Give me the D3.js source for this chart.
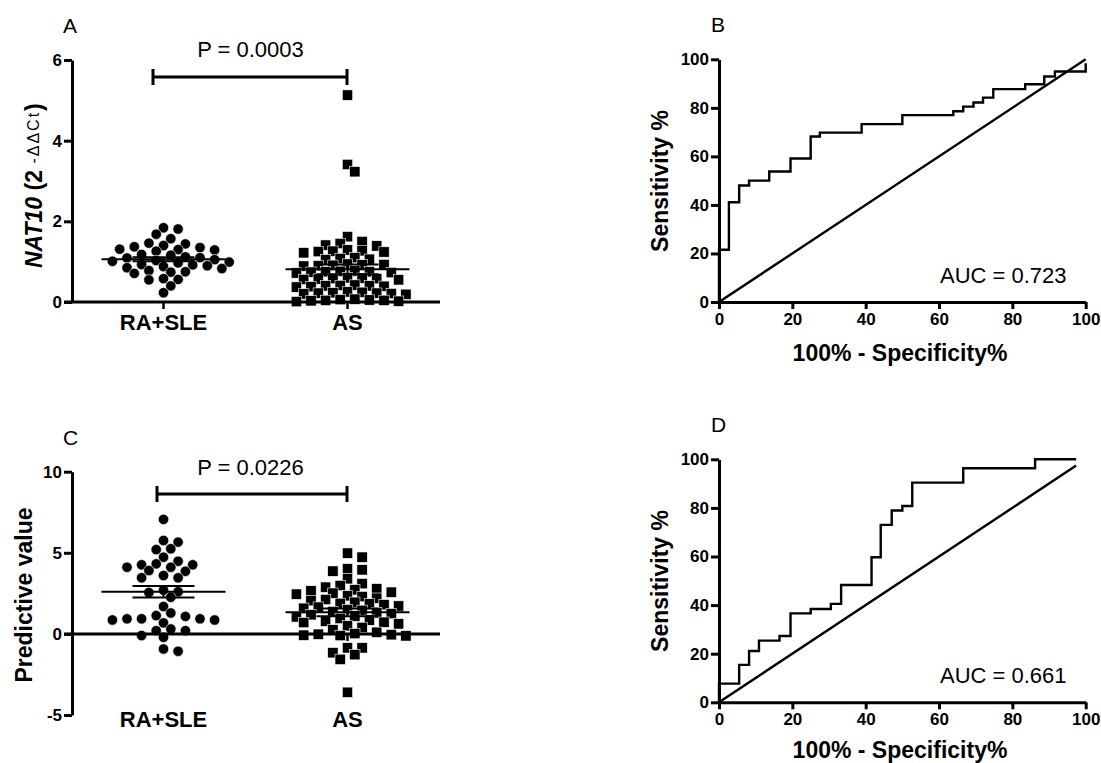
<!DOCTYPE html>
<html>
<head>
<meta charset="utf-8">
<script src="https://cdn.jsdelivr.net/npm/d3@7"></script>
<style>
  body { margin: 0; background: #fff; }
  text { font-family: "Liberation Sans", Arial, sans-serif; fill: #000; }
</style>
</head>
<body>
<svg id="chart" width="1101" height="763"></svg>
<script>
// ---- data ----
var groups = ["RA+SLE", "AS"];

// A: NAT10 expression (2^-ddCt)
var nat10RaSle = [1.84, 1.81, 1.68, 1.57, 1.46, 1.44, 1.40, 1.37, 1.35, 1.31, 1.30, 1.29, 1.26,
    1.18, 1.16, 1.12, 1.10, 1.09, 1.05, 1.03, 1.01, 0.99, 0.97, 0.93, 0.92, 0.90, 0.88, 0.85,
    0.83, 0.78, 0.75, 0.74, 0.71, 0.58, 0.56, 0.55, 0.40, 0.23];
var nat10As = [5.13, 3.41, 3.23, 1.62, 1.50, 1.45, 1.41, 1.39, 1.29, 1.27, 1.26, 1.25, 1.24,
    1.22, 1.10, 1.08, 1.06, 1.05, 0.94, 0.93, 0.92, 0.91, 0.90, 0.89, 0.77, 0.76, 0.75, 0.75,
    0.74, 0.73, 0.72, 0.60, 0.59, 0.58, 0.58, 0.57, 0.56, 0.55, 0.42, 0.41, 0.40, 0.40, 0.39,
    0.38, 0.37, 0.25, 0.24, 0.23, 0.22, 0.22, 0.21, 0.20, 0.19, 0.07, 0.06, 0.05, 0.04, 0.04,
    0.03, 0.02, 0.01];
var nat10Mean = [1.06, 0.81];
var nat10Sem = [0.05, 0.12];
var nat10Ticks = [0, 2, 4, 6];

// C: predictive value
var predRaSle = [7.06, 5.76, 5.66, 5.25, 5.20, 4.73, 4.48, 4.32, 4.26, 4.26, 4.11, 4.11, 3.91,
    3.86, 3.60, 3.46, 3.46, 2.70, 2.60, 2.55, 2.26, 1.69, 1.29, 1.13, 1.08, 0.93, 0.93, 0.93,
    0.86, 0.86, 0.68, 0.30, 0.20, 0.20, -0.10, -0.21, -0.93, -1.07];
var predAs = [4.98, 4.73, 4.01, 3.95, 3.87, 3.40, 3.10, 2.98, 2.88, 2.78, 2.72, 2.65, 2.57,
    2.51, 2.45, 2.35, 2.30, 2.20, 2.12, 2.05, 1.95, 1.88, 1.85, 1.80, 1.72, 1.65, 1.58, 1.50,
    1.45, 1.38, 1.30, 1.25, 1.18, 1.10, 1.05, 0.95, 0.85, 0.78, 0.72, 0.70, 0.62, 0.50, 0.40,
    0.25, 0.10, 0.02, -0.02, -0.05, -0.08, -0.10, -0.12, -0.86, -0.86, -1.16, -1.28, -1.57, -3.60];
var predMean = [2.60, 1.33];
var predSem = [0.36, 0.24];
var predTicks = [-5, 0, 5, 10];

// B, D: ROC curves, [100% - specificity, sensitivity] at each step
var rocB = [[0, 0], [0, 21.5], [2.7, 41.1], [5.5, 48], [8.2, 50], [13.7, 53.8], [19.5, 59.1],
    [25, 68.2], [27.5, 69.8], [38.9, 73.3], [50, 77], [63.9, 78.6], [66.6, 80.5], [69.4, 82.2],
    [72, 84.2], [74.8, 87.7], [83.5, 89.7], [88.7, 92.9], [91.6, 95], [100, 98.4]];
var rocD = [[0, 0], [0, 7.7], [5.5, 15.4], [8.2, 21.1], [10.9, 25.4], [16.5, 27.3], [19.5, 36.6],
    [25, 38.4], [30.5, 40.5], [33.3, 48.3], [41.6, 59.7], [44.1, 73], [47.1, 78.9], [50, 80.8],
    [52.7, 90.4], [66.6, 96.3], [86.2, 100], [97.4, 100]];
var diagB = [[0, 0], [100, 100]];
var diagD = [[0, 0], [97.4, 97.4]];
var rocTicks = [0, 20, 40, 60, 80, 100];

var svg = d3.select("#chart");
var FONT = '"Liberation Sans", Arial, sans-serif';

// Prism-like column scatter: place points on a horizontal grid, nearest free slot to the centre
function swarm(vals, y, cx, pitch, dmin) {
    var pts = vals.map(function (v) { return { v: v, y: y(v) }; })
        .sort(function (a, b) { return a.y - b.y; });
    var placed = [];
    pts.forEach(function (p) {
        for (var k = 0; k < 80; k++) {
            var off = Math.ceil(k / 2) * pitch * (k % 2 ? 1 : -1);
            var ok = placed.every(function (q) {
                var dx = q.x - (cx + off), dy = q.y - p.y;
                return dx * dx + dy * dy >= dmin * dmin;
            });
            if (ok) { p.x = cx + off; break; }
        }
        placed.push(p);
    });
    return placed;
}

function styleAxis(g) {
    g.attr("font-family", FONT).attr("font-size", 17).attr("font-weight", 700);
    g.selectAll("path, line").attr("stroke", "#000").attr("stroke-width", 3);
    g.selectAll("text").attr("fill", "#000")
        .style("font-family", FONT).style("font-size", "17px").style("font-weight", "700");
}

function plain(d) { return String(d); }

function dotPanel(cfg) {
    var g = svg.append("g");
    var x = d3.scalePoint().domain(groups).range([163.5, 347.5]);
    var y = cfg.y;

    // points
    var sets = [cfg.a, cfg.b];
    sets.forEach(function (vals, i) {
        var pts = swarm(vals, y, x(groups[i]), 7.3, 9.1);
        if (i === 0) {
            g.append("g").selectAll("circle").data(pts).enter().append("circle")
                .attr("cx", function (d) { return d.x; })
                .attr("cy", function (d) { return d.y; })
                .attr("r", 5.2)
                .attr("fill", "#000").attr("stroke", "#fff").attr("stroke-width", 0.6);
        } else {
            g.append("g").selectAll("rect").data(pts).enter().append("rect")
                .attr("x", function (d) { return d.x - 5.2; })
                .attr("y", function (d) { return d.y - 5.2; })
                .attr("width", 10.4).attr("height", 10.4)
                .attr("fill", "#000").attr("stroke", "#fff").attr("stroke-width", 0.6);
        }
    });

    // mean + SEM
    groups.forEach(function (grp, i) {
        var cx = x(grp), m = cfg.mean[i], s = cfg.sem[i];
        g.append("line").attr("x1", cx - 62).attr("x2", cx + 62)
            .attr("y1", y(m)).attr("y2", y(m)).attr("stroke", "#000").attr("stroke-width", 2);
        [m - s, m + s].forEach(function (v) {
            g.append("line").attr("x1", cx - 31).attr("x2", cx + 31)
                .attr("y1", y(v)).attr("y2", y(v)).attr("stroke", "#000").attr("stroke-width", 2);
        });
        g.append("line").attr("x1", cx).attr("x2", cx)
            .attr("y1", y(m - s)).attr("y2", y(m + s)).attr("stroke", "#000").attr("stroke-width", 2);
    });

    // y axis
    var ay = g.append("g").attr("transform", "translate(72,0)")
        .call(d3.axisLeft(y).tickValues(cfg.ticks).tickFormat(plain)
            .tickSize(8).tickSizeOuter(0).tickPadding(2));
    styleAxis(ay);

    // horizontal axis at zero, with category ticks
    g.append("line").attr("x1", 64).attr("x2", 440).attr("y1", y(0)).attr("y2", y(0))
        .attr("stroke", "#000").attr("stroke-width", 3);
    g.selectAll(".ctick").data(groups).enter().append("line")
        .attr("x1", function (d) { return x(d); }).attr("x2", function (d) { return x(d); })
        .attr("y1", y(0)).attr("y2", y(0) + 7)
        .attr("stroke", "#000").attr("stroke-width", 2.5);

    // category labels
    g.selectAll(".cat").data(groups).enter().append("text")
        .attr("x", function (d) { return x(d); }).attr("y", cfg.catY)
        .attr("text-anchor", "middle").style("font-size", "22px").style("font-weight", "bold")
        .text(function (d) { return d; });

    // significance bracket
    var b = cfg.bracket;
    g.append("path")
        .attr("d", "M" + b[0] + "," + (b[2] - 8) + "V" + (b[2] + 8) + "M" + b[0] + "," + b[2] +
            "H" + b[1] + "M" + b[1] + "," + (b[2] - 8) + "V" + (b[2] + 8))
        .attr("fill", "none").attr("stroke", "#000").attr("stroke-width", 3);
    g.append("text").attr("x", 250.5).attr("y", cfg.pY).attr("text-anchor", "middle")
        .style("font-size", "22px").text("P = " + cfg.p);

    g.append("text").attr("x", 63).attr("y", cfg.letterY).style("font-size", "21px").text(cfg.letter);
    return g;
}

function rocPanel(cfg) {
    var g = svg.append("g");
    var x = d3.scaleLinear().domain([0, 100]).range([719, 1085.7]);
    var y = cfg.y;

    var line = d3.line().x(function (d) { return x(d[0]); }).y(function (d) { return y(d[1]); });
    g.append("path").attr("d", line(cfg.diag))
        .attr("fill", "none").attr("stroke", "#000").attr("stroke-width", 2.4);
    g.append("path").attr("d", line.curve(d3.curveStepAfter)(cfg.roc))
        .attr("fill", "none").attr("stroke", "#000").attr("stroke-width", 2.4);

    var ax = g.append("g").attr("transform", "translate(0," + y(0) + ")")
        .call(d3.axisBottom(x).tickValues(rocTicks).tickFormat(plain)
            .tickSize(7).tickSizeOuter(0).tickPadding(4));
    styleAxis(ax);
    var ay = g.append("g").attr("transform", "translate(719,0)")
        .call(d3.axisLeft(y).tickValues(rocTicks).tickFormat(plain)
            .tickSize(8).tickSizeOuter(0).tickPadding(2));
    styleAxis(ay);

    g.append("text").attr("x", 668).attr("y", cfg.yTitle)
        .attr("transform", "rotate(-90,668," + cfg.yTitle + ")")
        .attr("text-anchor", "middle").style("font-size", "23px").style("font-weight", "bold")
        .text("Sensitivity %");
    g.append("text").attr("x", 900).attr("y", cfg.xTitle).attr("text-anchor", "middle")
        .style("font-size", "23px").style("font-weight", "bold").text("100% - Specificity%");
    g.append("text").attr("x", 940).attr("y", cfg.aucY).style("font-size", "22px")
        .text("AUC = " + cfg.auc);
    g.append("text").attr("x", 711).attr("y", cfg.letterY).style("font-size", "21px").text(cfg.letter);
}

// ---- panel A ----
var yA = d3.scaleLinear().domain([0, 6]).range([302, 60]);
dotPanel({ y: yA, a: nat10RaSle, b: nat10As, mean: nat10Mean, sem: nat10Sem, ticks: nat10Ticks,
    catY: 330, bracket: [153, 347, 77], p: "0.0003", pY: 57, letter: "A", letterY: 33 });

var tA = svg.append("text").attr("x", 42).attr("y", 268)
    .attr("transform", "rotate(-90,42,268)").style("font-size", "23px").style("font-weight", "bold");
tA.append("tspan").style("font-style", "italic").text("NAT10");
tA.append("tspan").text(" (2 ");
tA.append("tspan").style("font-weight", "normal").style("font-size", "16px")
    .attr("dy", -3).style("letter-spacing", "2px").text("-\u0394\u0394Ct");
tA.append("tspan").attr("dy", 3).text(")");

// ---- panel C ----
var yC = d3.scaleLinear().domain([-5, 10]).range([715, 471.7]);
dotPanel({ y: yC, a: predRaSle, b: predAs, mean: predMean, sem: predSem, ticks: predTicks,
    catY: 727, bracket: [157, 347, 494], p: "0.0226", pY: 475, letter: "C", letterY: 445 });

svg.append("text").attr("x", 32).attr("y", 595)
    .attr("transform", "rotate(-90,32,595)").attr("text-anchor", "middle")
    .style("font-size", "23px").style("font-weight", "bold").text("Predictive value");

// ---- panels B, D ----
rocPanel({ y: d3.scaleLinear().domain([0, 100]).range([302, 59.3]), roc: rocB, diag: diagB,
    auc: "0.723", aucY: 283, letter: "B", letterY: 32, yTitle: 181, xTitle: 361 });
rocPanel({ y: d3.scaleLinear().domain([0, 100]).range([702.3, 459.3]), roc: rocD, diag: diagD,
    auc: "0.661", aucY: 683, letter: "D", letterY: 432, yTitle: 581, xTitle: 758 });
</script>
</body>
</html>
